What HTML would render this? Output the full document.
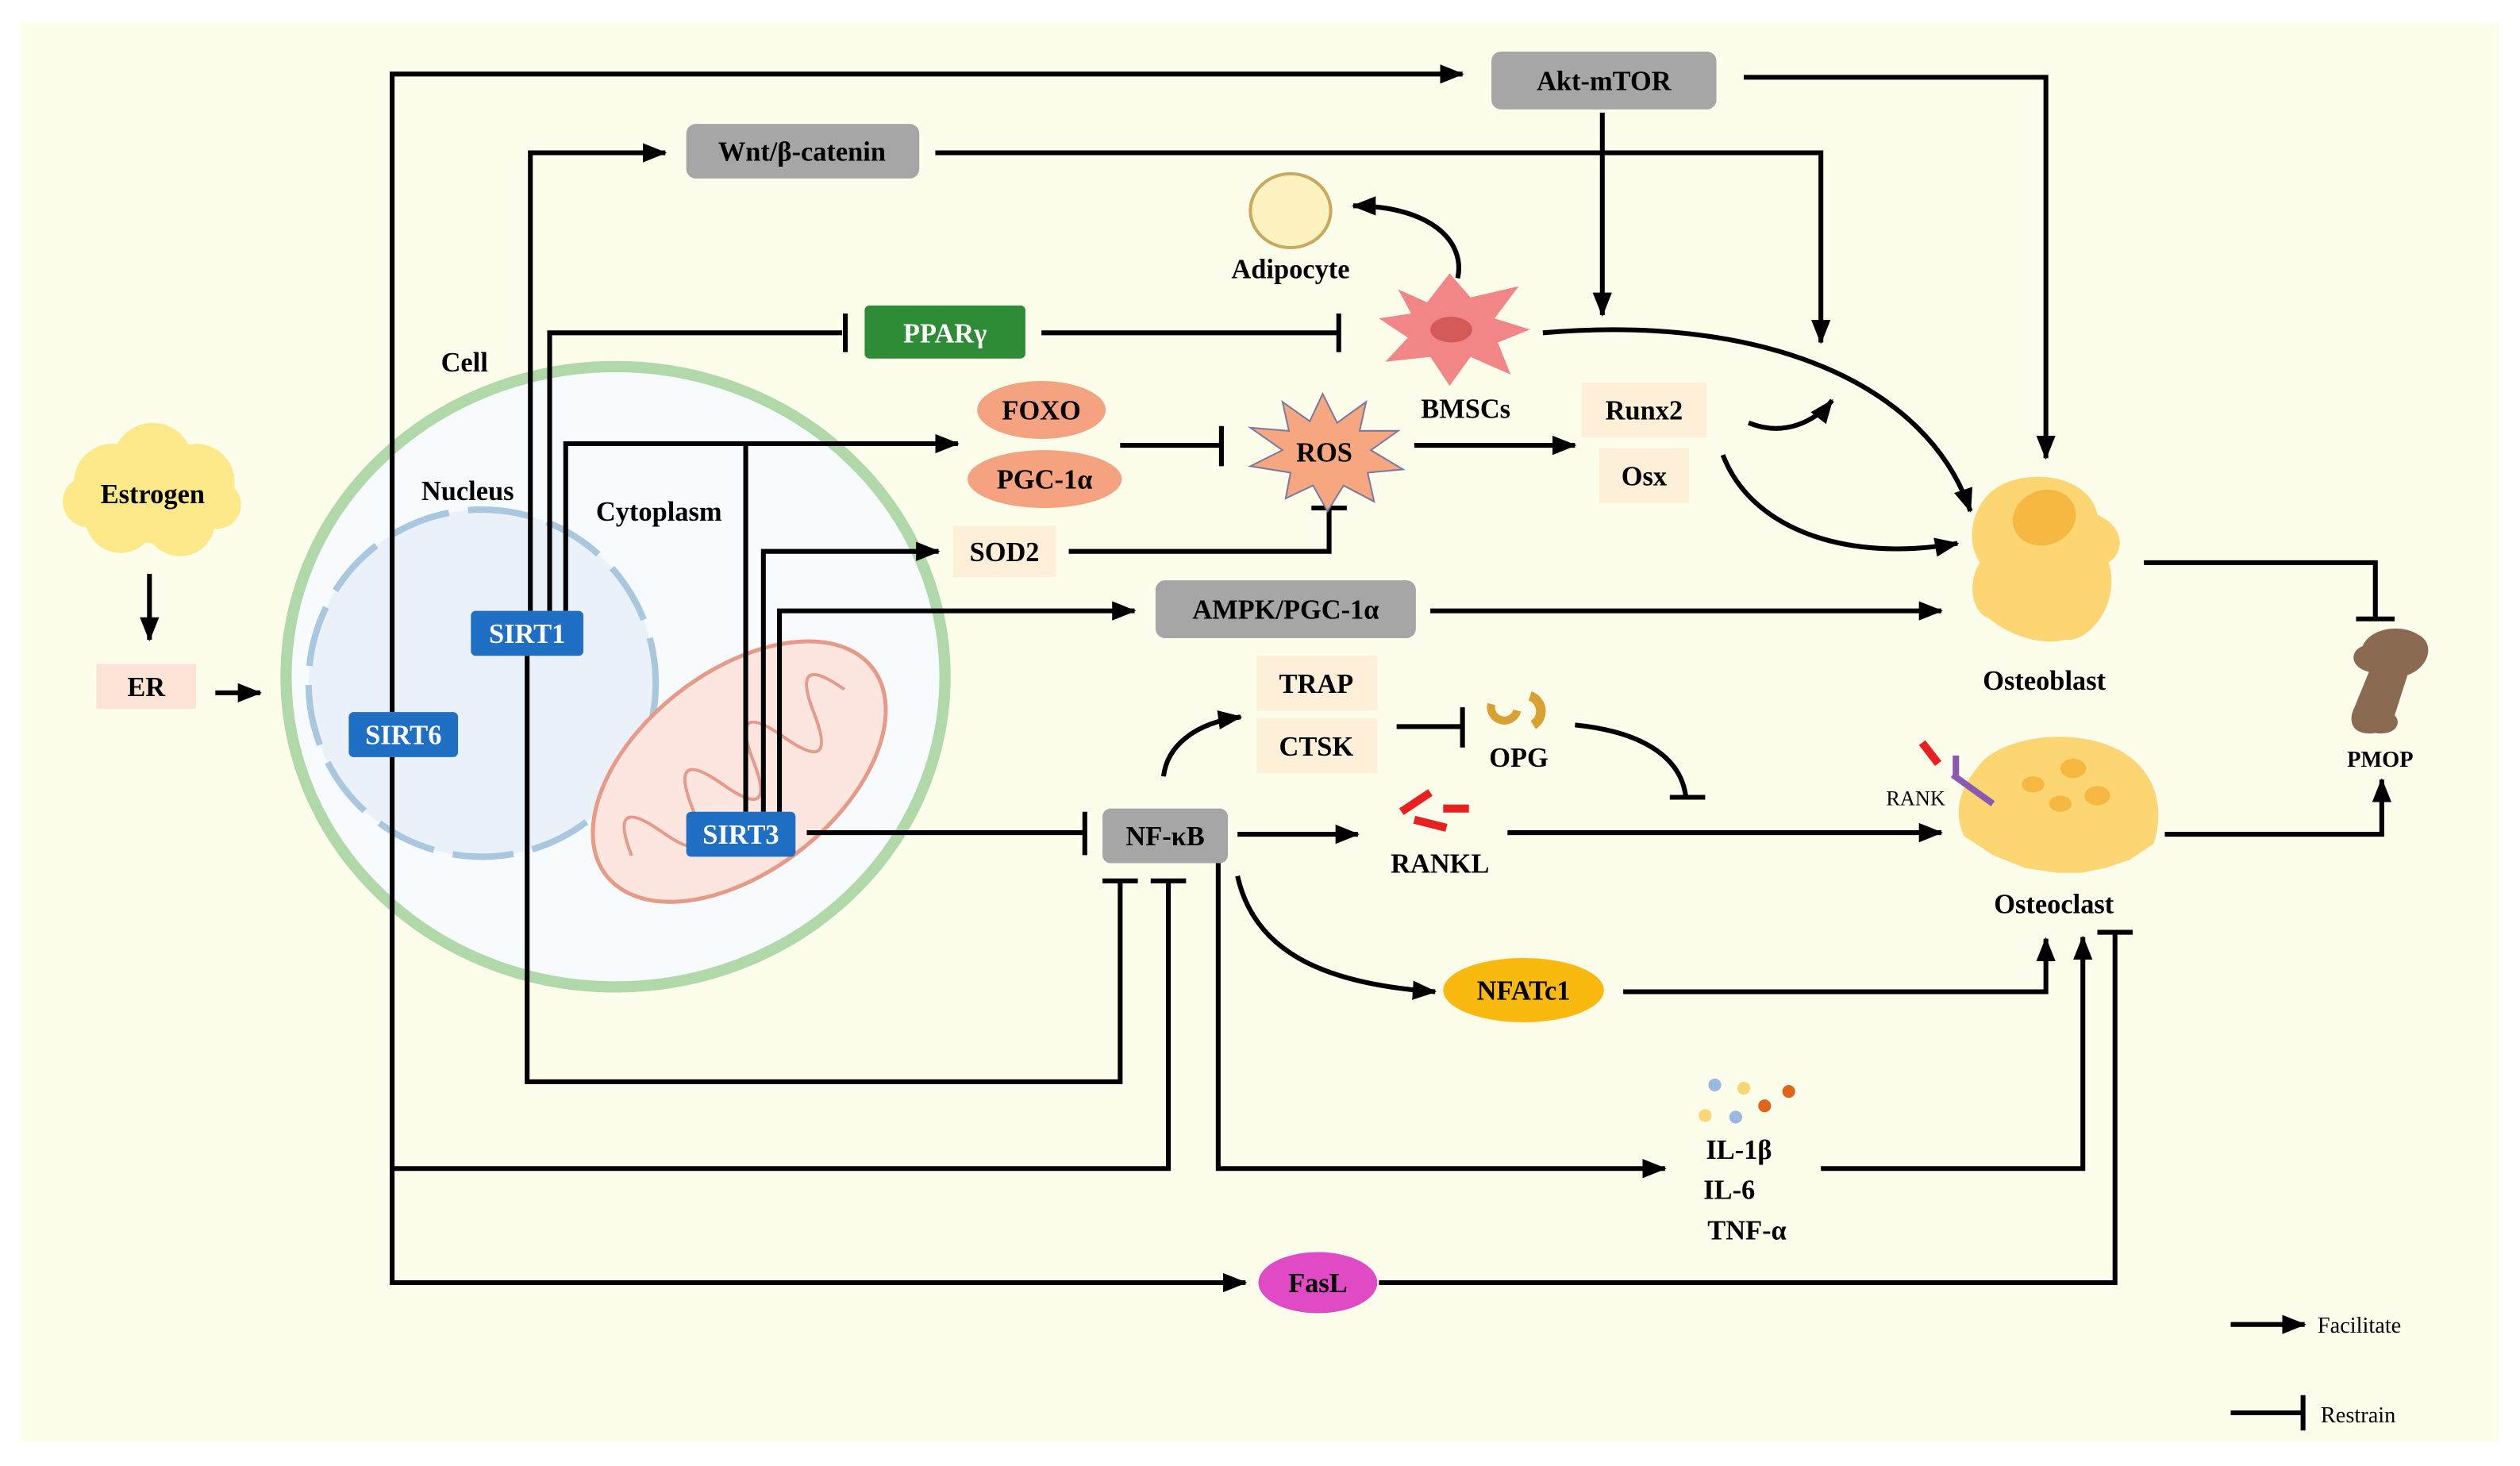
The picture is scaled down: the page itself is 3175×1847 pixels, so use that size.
<!DOCTYPE html>
<html><head><meta charset="utf-8"><style>html,body{margin:0;padding:0;background:#fff}svg{display:block}svg text{font-family:"Liberation Serif","Times New Roman",serif}</style></head>
<body>
<svg width="3175" height="1847" viewBox="0 0 1568 912" xmlns="http://www.w3.org/2000/svg" style="font-family:'Liberation Serif',serif">
<defs>
<marker id="a" markerUnits="userSpaceOnUse" markerWidth="16" markerHeight="14" refX="14" refY="7" orient="auto"><path d="M0,1 L15,7 L0,13 Z" fill="#000"/></marker>
</defs>
<rect x="0" y="0" width="1568" height="912" fill="#fff"/>
<rect x="12" y="14" width="1543" height="883" fill="#fdfdec"/>
<g stroke="#000" stroke-width="3" fill="none">
<line x1="93" y1="357" x2="93" y2="398" marker-end="url(#a)"/>
<line x1="134" y1="431" x2="162" y2="431" marker-end="url(#a)"/>
</g>
<g fill="#fde98a">
<circle cx="70" cy="300" r="24"/><circle cx="95" cy="288" r="25"/><circle cx="122" cy="300" r="24"/>
<circle cx="75" cy="322" r="22"/><circle cx="112" cy="324" r="22"/><circle cx="95" cy="310" r="28"/>
<circle cx="55" cy="312" r="16"/><circle cx="135" cy="314" r="15"/>
</g>
<text x="95" y="313" font-size="17" font-weight="bold" text-anchor="middle">Estrogen</text>
<rect x="60" y="413" width="62" height="28" fill="#fde4d6"/>
<text x="91" y="433" font-size="17" font-weight="bold" text-anchor="middle">ER</text>
<ellipse cx="383" cy="421" rx="205" ry="193" fill="#f8fbfd" stroke="#b0d8a8" stroke-width="7"/>
<ellipse cx="300" cy="425" rx="108" ry="108" fill="#eaf1f9" stroke="#a9c7df" stroke-width="4" stroke-dasharray="38 12"/>
<g transform="rotate(-38 460 480)">
<ellipse cx="460" cy="480" rx="105" ry="62" fill="#fde6e0" stroke="#e79a88" stroke-width="2.5"/>
<path d="M375,480 q12,-40 24,0 q12,40 24,0 q12,-40 24,0 q12,40 24,0 q12,-40 24,0 q12,40 24,0 q12,-40 24,0" fill="none" stroke="#e79a88" stroke-width="2"/>
</g>
<g font-size="17" font-weight="bold" text-anchor="middle">
<text x="289" y="231">Cell</text>
<text x="291" y="311">Nucleus</text>
<text x="410" y="324">Cytoplasm</text>
</g>
<g stroke="#000" stroke-width="3" fill="none">
<polyline points="244,443 244,46 910,46" marker-end="url(#a)"/>
<polyline points="330,380 330,95 414,95" marker-end="url(#a)"/>
<polyline points="342,380 342,207 524,207"/>
<line x1="526" y1="195" x2="526" y2="219"/>
<polyline points="352,380 352,276 596,276" marker-end="url(#a)"/>
<line x1="464" y1="505" x2="464" y2="276"/>
<polyline points="475,505 475,343 584,343" marker-end="url(#a)"/>
<polyline points="485,505 485,380 706,380" marker-end="url(#a)"/>
<line x1="697" y1="277" x2="760" y2="277"/><line x1="760" y1="265" x2="760" y2="290"/>
<polyline points="665,343 827,343 827,316"/><line x1="816" y1="316" x2="838" y2="316"/>
<line x1="880" y1="277" x2="980" y2="277" marker-end="url(#a)"/>
<line x1="648" y1="207" x2="833" y2="207"/><line x1="833" y1="195" x2="833" y2="219"/>
<path d="M907,173 C912,150 890,128 842,128" marker-end="url(#a)"/>
<line x1="997" y1="70" x2="997" y2="196" marker-end="url(#a)"/>
<polyline points="1085,48 1273,48 1273,285" marker-end="url(#a)"/>
<polyline points="582,95 1133,95 1133,213" marker-end="url(#a)"/>
<path d="M960,207 C1100,195 1200,240 1226,318" marker-end="url(#a)"/>
<path d="M1088,263 C1110,272 1130,262 1140,249" marker-end="url(#a)"/>
<path d="M1072,283 C1090,330 1150,350 1218,338" marker-end="url(#a)"/>
<line x1="890" y1="380" x2="1208" y2="380" marker-end="url(#a)"/>
<polyline points="1334,350 1478,350 1478,385"/><line x1="1466" y1="385" x2="1490" y2="385"/>
<line x1="502" y1="518" x2="675" y2="518"/><line x1="675" y1="505" x2="675" y2="532"/>
<path d="M724,483 C726,465 742,450 772,446" marker-end="url(#a)"/>
<line x1="869" y1="452" x2="910" y2="452"/><line x1="910" y1="440" x2="910" y2="465"/>
<path d="M980,451 C1020,455 1046,470 1049,496"/><line x1="1039" y1="496" x2="1061" y2="496"/>
<line x1="770" y1="519" x2="845" y2="519" marker-end="url(#a)"/>
<line x1="938" y1="518" x2="1208" y2="518" marker-end="url(#a)"/>
<polyline points="1347,519 1482,519 1482,485" marker-end="url(#a)"/>
<path d="M770,545 C780,590 820,612 893,617" marker-end="url(#a)"/>
<polyline points="1010,617 1273,617 1273,584" marker-end="url(#a)"/>
<polyline points="758,537 758,727 1036,727" marker-end="url(#a)"/>
<polyline points="1133,727 1296,727 1296,583" marker-end="url(#a)"/>
<polyline points="328,408 328,673 697,673 697,548"/><line x1="686" y1="548" x2="708" y2="548"/>
<polyline points="244,471 244,798 775,798" marker-end="url(#a)"/>
<polyline points="244,727 727,727 727,548"/><line x1="716" y1="548" x2="738" y2="548"/>
<polyline points="858,798 1316,798 1316,580"/><line x1="1305" y1="580" x2="1327" y2="580"/>
<line x1="1388" y1="824" x2="1434" y2="824" marker-end="url(#a)"/>
<line x1="1388" y1="879" x2="1433" y2="879"/><line x1="1433" y1="868" x2="1433" y2="890"/>
</g>
<g font-size="17" font-weight="bold" text-anchor="middle">
<rect x="293" y="380" width="70" height="28" rx="3" fill="#1f6fc5"/><text x="328" y="400" fill="#fff">SIRT1</text>
<rect x="217" y="443" width="68" height="28" rx="3" fill="#1f6fc5"/><text x="251" y="463" fill="#fff">SIRT6</text>
<rect x="427" y="505" width="68" height="28" rx="3" fill="#1f6fc5"/><text x="461" y="525" fill="#fff">SIRT3</text>
<rect x="928" y="32" width="140" height="36" rx="6" fill="#a6a6a6"/><text x="998" y="56">Akt-mTOR</text>
<rect x="427" y="77" width="145" height="34" rx="6" fill="#a6a6a6"/><text x="499" y="100">Wnt/β-catenin</text>
<rect x="538" y="190" width="100" height="33" rx="3" fill="#2e8b36"/><text x="588" y="213" fill="#fff">PPARγ</text>
<ellipse cx="648" cy="255" rx="40" ry="18" fill="#f4a27f"/><text x="648" y="261">FOXO</text>
<ellipse cx="650" cy="298" rx="48" ry="18" fill="#f4a27f"/><text x="650" y="304">PGC-1α</text>
<rect x="593" y="327" width="64" height="32" fill="#fdefd8"/><text x="625" y="349">SOD2</text>
<rect x="719" y="361" width="162" height="36" rx="6" fill="#a6a6a6"/><text x="800" y="385">AMPK/PGC-1α</text>
<polygon points="823,245 832,263 850,250 846,268 870,268 853,280 873,292 851,294 855,312 836,302 826,318 817,302 800,310 803,294 778,290 798,280 778,266 802,268 798,250 815,262" fill="#f6a77f" stroke="#7a7aa0" stroke-width="1"/>
<text x="824" y="287">ROS</text>
<rect x="984" y="238" width="78" height="34" fill="#fdefd8"/><text x="1023" y="261">Runx2</text>
<rect x="995" y="279" width="56" height="34" fill="#fdefd8"/><text x="1023" y="302">Osx</text>
<polygon points="870,180 888,188 902,170 915,185 945,178 930,198 952,205 932,213 940,233 915,222 902,240 890,222 862,225 876,210 858,198 878,195" fill="#f28585"/>
<ellipse cx="903" cy="205" rx="13" ry="8" fill="#d45a5a"/>
<text x="912" y="260">BMSCs</text>
<ellipse cx="803" cy="131" rx="25" ry="23" fill="#fdf3c0" stroke="#c9a860" stroke-width="2"/>
<text x="803" y="173">Adipocyte</text>
<path d="M1240,305 C1260,290 1300,295 1305,320 C1325,330 1320,345 1312,350 C1320,375 1300,400 1285,398 C1270,402 1250,395 1238,385 C1225,380 1225,360 1232,350 C1222,335 1228,315 1240,305 Z" fill="#fcd672"/>
<ellipse cx="1272" cy="322" rx="20" ry="17" fill="#f6b840" transform="rotate(-20 1272 322)"/>
<text x="1272" y="429">Osteoblast</text>
<path d="M1470,402 C1475,390 1495,388 1505,395 C1515,400 1512,415 1498,420 L1490,445 C1495,450 1490,458 1478,456 C1465,458 1460,450 1465,440 L1474,418 C1462,415 1462,405 1470,402 Z" fill="#8a6a50"/>
<text x="1481" y="477" font-size="14">PMOP</text>
<rect x="686" y="503" width="78" height="34" rx="5" fill="#a6a6a6"/><text x="725" y="526">NF-κB</text>
<rect x="782" y="408" width="75" height="34" fill="#fdefd8"/><text x="819" y="431">TRAP</text>
<rect x="782" y="447" width="75" height="34" fill="#fdefd8"/><text x="819" y="470">CTSK</text>
<path d="M928,438 a8,8 0 0 0 16,4" fill="none" stroke="#d9a032" stroke-width="5"/>
<path d="M952,433 a10,10 0 0 1 2,18" fill="none" stroke="#d9a032" stroke-width="6"/>
<text x="945" y="477">OPG</text>
<g stroke="#e82020" stroke-width="5"><line x1="872" y1="505" x2="890" y2="493"/><line x1="880" y1="510" x2="900" y2="515"/><line x1="898" y1="503" x2="914" y2="503"/></g>
<text x="896" y="543">RANKL</text>
<path d="M1230,478 C1245,455 1305,450 1330,475 C1345,490 1345,510 1340,525 L1325,535 L1310,540 L1295,543 L1280,543 L1260,540 L1240,532 L1222,520 C1215,505 1220,490 1230,478 Z" fill="#fcd672"/>
<ellipse cx="1265" cy="488" rx="7" ry="5" fill="#f6b840"/><ellipse cx="1290" cy="478" rx="8" ry="6" fill="#f6b840"/><ellipse cx="1305" cy="495" rx="8" ry="6" fill="#f6b840"/><ellipse cx="1282" cy="500" rx="7" ry="5" fill="#f6b840"/>
<g stroke="#8a5ab0" stroke-width="4"><line x1="1215" y1="482" x2="1240" y2="500"/><line x1="1217" y1="470" x2="1217" y2="482"/></g>
<line x1="1196" y1="462" x2="1206" y2="475" stroke="#e82020" stroke-width="5"/>
<text x="1192" y="501" font-size="13" font-weight="normal">RANK</text>
<text x="1278" y="568">Osteoclast</text>
<ellipse cx="948" cy="616" rx="50" ry="20" fill="#f9b90f"/><text x="948" y="622">NFATc1</text>
<circle cx="1067" cy="675" r="4" fill="#9ab8e0"/><circle cx="1085" cy="677" r="4" fill="#fcd672"/><circle cx="1098" cy="688" r="4" fill="#e0651a"/><circle cx="1113" cy="679" r="4" fill="#e0651a"/><circle cx="1061" cy="694" r="4" fill="#fcd672"/><circle cx="1080" cy="695" r="4" fill="#9ab8e0"/>
<text x="1082" y="721">IL-1β</text><text x="1076" y="746">IL-6</text><text x="1087" y="771">TNF-α</text>
<ellipse cx="820" cy="798" rx="37" ry="19" fill="#e04bc5"/><text x="820" y="804">FasL</text>
</g>
<text x="1442" y="829" font-size="14">Facilitate</text>
<text x="1444" y="885" font-size="14">Restrain</text>
</svg>
</body></html>
